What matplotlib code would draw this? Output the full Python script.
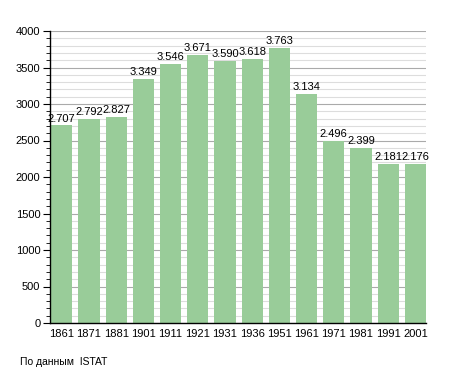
import numpy as np
import matplotlib.pyplot as plt
from matplotlib.ticker import MultipleLocator

plt.rcParams['font.family'] = ['Liberation Sans', 'DejaVu Sans']

years = ['1861', '1871', '1881', '1901', '1911', '1921', '1931',
         '1936', '1951', '1961', '1971', '1981', '1991', '2001']
population = [2707, 2792, 2827, 3349, 3546, 3671, 3590,
              3618, 3763, 3134, 2496, 2399, 2181, 2176]
labels = ['2.707', '2.792', '2.827', '3.349', '3.546', '3.671', '3.590',
          '3.618', '3.763', '3.134', '2.496', '2.399', '2.181', '2.176']

fig = plt.figure(figsize=(4.55, 3.73), dpi=100)
ax = fig.add_axes([50 / 455, 50 / 373, 376 / 455, 292 / 373])

w = 0.78
x = np.arange(len(years))
ax.bar(x, population, width=w, align='edge', color='#99cc99', zorder=2)

for xi, v, lab in zip(x, population, labels):
    ax.text(xi + w / 2, v + 25, lab, ha='center', va='bottom', fontsize=8, zorder=3)

ax.set_xlim(-0.04, len(years) - 1 + w)
ax.set_ylim(0, 4000)
ax.set_xticks(x + w / 2)
ax.set_xticklabels(years, fontsize=8)
ax.tick_params(axis='x', length=0, pad=4)

ax.yaxis.set_major_locator(MultipleLocator(500))
ax.yaxis.set_minor_locator(MultipleLocator(100))
ax.tick_params(axis='y', which='major', length=5, labelsize=8, pad=2)
ax.tick_params(axis='y', which='minor', length=3)
ax.grid(axis='y', which='major', color='#aaaaaa', linewidth=0.8, zorder=0)
ax.grid(axis='y', which='minor', color='#dddddd', linewidth=0.8, zorder=0)
ax.set_axisbelow(True)

for s in ['top', 'right']:
    ax.spines[s].set_visible(False)
ax.spines['left'].set_linewidth(1)
ax.spines['bottom'].set_linewidth(1)

fig.text(20 / 455, 1 - 362 / 373, 'По данным  ISTAT', fontsize=7.5, va='center', ha='left')

fig.savefig('out.png', dpi=100)
